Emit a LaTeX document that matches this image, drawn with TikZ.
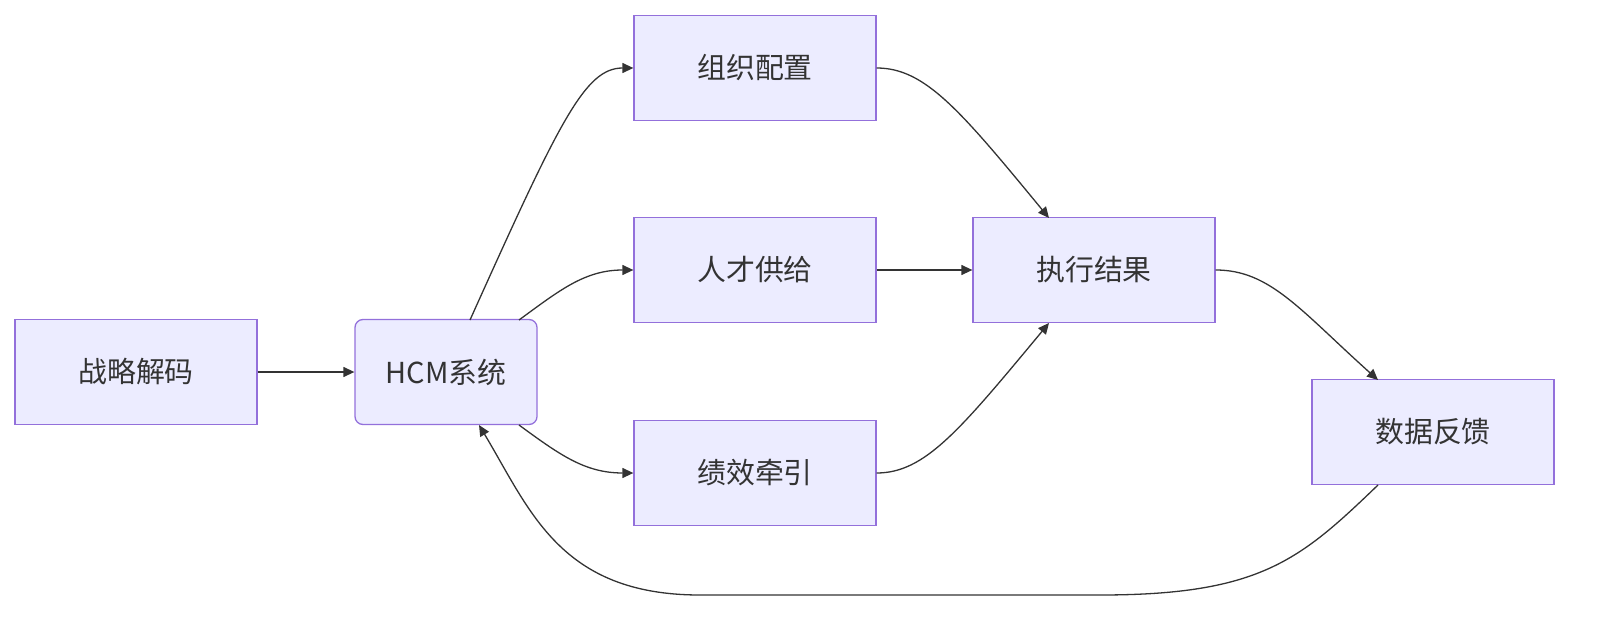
\documentclass[tikz,border=0pt]{standalone}
\usepackage{fontspec}
\setmainfont{Noto Sans CJK SC}
\usetikzlibrary{arrows.meta}
\definecolor{nf}{HTML}{ECECFF}
\definecolor{nb}{HTML}{9370DB}
\definecolor{ed}{HTML}{333333}
\begin{document}
\begin{tikzpicture}[x=1bp,y=-1bp,
  box/.style={draw=nb,fill=nf,line width=1.3pt,minimum width=242bp,minimum height=105bp,inner sep=0pt,font=\fontsize{29}{33}\selectfont,text=ed},
  rbox/.style={box,minimum width=182bp,rounded corners=8pt},
  e/.style={draw=ed,line width=1.3pt,-{Triangle[length=11pt,width=10pt]}}]
\useasboundingbox (0,0) rectangle (1610,626);
\node[box] (a) at (136,372) {战略解码};
\node[rbox] (h) at (446,372) {HCM系统};
\node[box] (o) at (755,68) {组织配置};
\node[box] (t) at (755,270) {人才供给};
\node[box] (p) at (755,473) {绩效牵引};
\node[box] (x) at (1094,270) {执行结果};
\node[box] (d) at (1433,432) {数据反馈};
\coordinate (h1) at (470,320);
\coordinate (h2) at (519,320);
\coordinate (h3) at (519,425);
\coordinate (h4) at (479,425);
\coordinate (xt) at (1049,218);
\coordinate (xb) at (1049,323);
\coordinate (dt) at (1378,380);
\coordinate (db) at (1378,485);
\draw[e] (a) -- (h);
\draw[e] (h1) .. controls (560,120) and (585,68) .. (o.west);
\draw[e] (h2) .. controls (560,290) and (585,270) .. (t.west);
\draw[e] (h3) .. controls (560,455) and (585,473) .. (p.west);
\draw[e] (o.east) .. controls (925,68) and (960,110) .. (xt);
\draw[e] (t) -- (x);
\draw[e] (p.east) .. controls (925,473) and (960,430) .. (xb);
\draw[e] (x.east) .. controls (1270,270) and (1300,310) .. (dt);
\draw[e] (db) .. controls (1300,560) and (1260,595) .. (1100,595) -- (700,595) .. controls (560,595) and (530,510) .. (h4);
\end{tikzpicture}
\end{document}
